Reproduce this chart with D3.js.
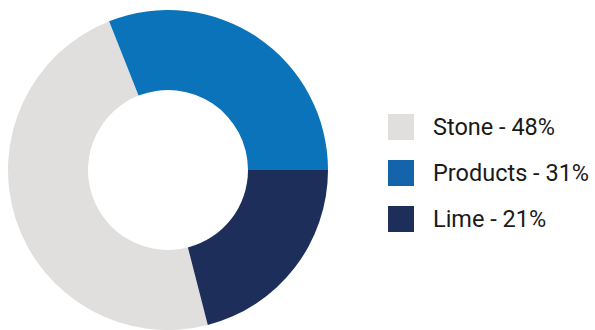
<!DOCTYPE html>
<html>
<head>
<meta charset="utf-8">
<script src="https://cdn.jsdelivr.net/npm/d3@7"></script>
<style>
  html, body { margin: 0; padding: 0; background: #fff; }
  text { font-family: Roboto, sans-serif; }
</style>
</head>
<body>
<div class="chart"></div>
<script>
const categories = ['Stone', 'Products', 'Lime']
const values = [48, 31, 21]
const colors = ['#e0dfde', '#0b73b9', '#1d2e5a']
const legendColors = ['#e0dfde', '#1464ac', '#1d2e5a']

let w = 595,
    h = 330

const svg = d3.select('.chart')
              .append('svg')
              .attr('width', w)
              .attr('height', h)

const cx = 168, cy = 170
const outerR = 160, innerR = 80

// slices start at Stone; offset so Products ends at 3 o'clock
const startAngle = -Math.PI * 2 * (values[0] + values[1]) / 100 + Math.PI / 2

const pie = d3.pie()
              .sort(null)
              .startAngle(startAngle)
              .endAngle(startAngle + Math.PI * 2)
              .value(d => d)

const arc = d3.arc().innerRadius(innerR).outerRadius(outerR)

svg.append('g')
   .attr('transform', `translate(${cx},${cy})`)
   .selectAll('path')
   .data(pie(values))
   .enter()
   .append('path')
   .attr('d', arc)
   .attr('fill', (d, i) => colors[i])

const legendY = d3.scaleBand()
                  .domain(categories)
                  .range([104, 242])

let legend = svg.append('g').attr('id', 'legend')

legend.selectAll('rect')
      .data(categories)
      .enter()
      .append('rect')
      .attr('x', 388)
      .attr('y', d => legendY(d) + legendY.bandwidth() / 2 - 13)
      .attr('width', 26)
      .attr('height', 26)
      .attr('fill', (d, i) => legendColors[i])

legend.selectAll('text')
      .data(categories)
      .enter()
      .append('text')
      .attr('x', 433)
      .attr('y', d => legendY(d) + legendY.bandwidth() / 2)
      .attr('dy', '0.35em')
      .attr('font-size', 23.5)
      .attr('fill', '#1a1a1a')
      .text((d, i) => `${d} - ${values[i]}%`)
</script>
</body>
</html>
